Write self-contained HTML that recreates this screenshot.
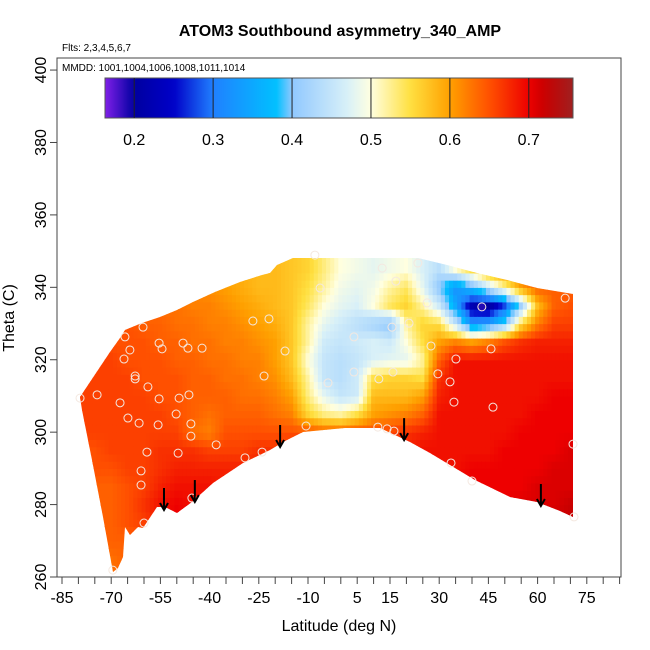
<!DOCTYPE html>
<html><head><meta charset="utf-8">
<style>
html,body{margin:0;padding:0;background:#fff;}
svg{display:block;font-family:"Liberation Sans",Arial,sans-serif;}
</style></head>
<body>
<svg id="chart" width="650" height="650" viewBox="0 0 650 650" xmlns="http://www.w3.org/2000/svg">
<defs>
<clipPath id="domclip"><polygon points="80,397 90,382 100,367 110,352 120,338 125,330 142,323 160,317 177,310 193,302 215,292 240,282 262,275 270,273 277,265 293,258 418,258 447,265 477,273 507,280 537,288 567,293 573,294 573,517 560,511 537,502 510,497 475,480 450,465 430,453 410,442 380,428 345,428 303,432 285,441 270,450 243,463 213,483 192,502 177,513 165,507 157,507 143,528 138,527 130,535 125,527 123,557 118,568 113,572 103,517 92,460 82,410"/></clipPath>
<linearGradient id="cbgrad" x1="0" x2="1" y1="0" y2="0"></linearGradient>
</defs>
<text x="340" y="36" text-anchor="middle" font-size="16" font-weight="bold">ATOM3 Southbound asymmetry_340_AMP</text>
<text x="62" y="51" font-size="10">Flts: 2,3,4,5,6,7</text>
<g id="heat" clip-path="url(#domclip)"></g>
<g id="pts"></g>
<g id="arrows"></g>
<rect x="57" y="58" width="564" height="519" fill="none" stroke="#444" stroke-width="1"/>
<text x="62" y="71" font-size="10">MMDD: 1001,1004,1006,1008,1011,1014</text>
<g id="cbar"></g>
<g id="xaxis"></g>
<g id="yaxis"></g>
<text x="339" y="631" text-anchor="middle" font-size="16">Latitude (deg N)</text>
<text transform="translate(14,318) rotate(-90)" text-anchor="middle" font-size="16">Theta (C)</text>
</svg>
<script>
const gridLats = [-75,-70,-65,-60,-55,-50,-45,-40,-35,-30,-25,-20,-15,-10,-5,0,5,10,15,20,25,30,35,40,45,50,55,60,65,70];
const gridThetas = [345,340,335,330,325,320,315,310,305,300,295,290,285,280,275,270,265];
const gridValues = [
[.64,.64,.64,.63,.63,.62,.62,.61,.60,.59,.58,.58,.57,.56,.53,.50,.49,.48,.49,.50,.47,.44,.50,.55,.60,.62,.63,.64,.64,.64],
[.64,.64,.64,.63,.63,.62,.62,.61,.60,.59,.58,.58,.57,.55,.52,.49,.48,.49,.52,.54,.48,.40,.32,.38,.45,.52,.60,.64,.64,.64],
[.65,.65,.64,.64,.63,.63,.62,.62,.61,.60,.59,.58,.57,.54,.50,.48,.47,.50,.54,.56,.52,.46,.35,.22,.20,.28,.42,.58,.64,.65],
[.65,.65,.65,.64,.64,.63,.63,.62,.62,.61,.60,.59,.57,.52,.48,.46,.44,.42,.40,.52,.56,.55,.45,.32,.34,.40,.55,.62,.66,.66],
[.66,.65,.65,.65,.64,.64,.63,.63,.62,.62,.61,.60,.57,.52,.46,.45,.46,.47,.46,.50,.55,.60,.62,.60,.62,.65,.67,.68,.68,.68],
[.66,.66,.65,.65,.65,.64,.64,.63,.63,.62,.62,.60,.57,.50,.45,.44,.45,.47,.48,.48,.52,.64,.69,.69,.69,.69,.69,.69,.69,.69],
[.66,.66,.66,.65,.65,.65,.64,.64,.63,.63,.62,.61,.58,.52,.45,.44,.46,.55,.56,.56,.55,.67,.69,.69,.69,.69,.69,.69,.69,.69],
[.66,.66,.66,.66,.65,.65,.64,.64,.64,.63,.63,.62,.60,.53,.48,.45,.46,.58,.58,.58,.60,.68,.69,.69,.69,.69,.69,.69,.70,.70],
[.66,.66,.66,.66,.66,.65,.64,.63,.64,.64,.64,.63,.62,.56,.53,.52,.55,.60,.61,.62,.64,.69,.69,.69,.69,.69,.69,.70,.70,.70],
[.66,.66,.66,.66,.66,.66,.63,.62,.65,.65,.65,.65,.65,.65,.64,.64,.65,.65,.66,.67,.68,.69,.69,.69,.69,.69,.70,.70,.70,.70],
[.65,.66,.66,.66,.67,.67,.67,.66,.66,.66,.67,.67,.68,.68,.68,.68,.68,.68,.68,.68,.69,.69,.69,.69,.69,.70,.70,.70,.70,.71],
[.65,.65,.66,.66,.67,.68,.68,.68,.68,.68,.68,.68,.68,.69,.69,.69,.69,.69,.69,.69,.69,.69,.69,.70,.70,.70,.70,.70,.71,.71],
[.64,.64,.65,.66,.68,.69,.69,.69,.68,.68,.68,.68,.69,.69,.69,.69,.69,.69,.69,.69,.69,.69,.70,.70,.70,.70,.70,.71,.71,.71],
[.64,.64,.65,.67,.69,.70,.69,.69,.68,.68,.68,.68,.69,.69,.69,.69,.69,.69,.69,.69,.69,.70,.70,.70,.70,.70,.71,.71,.71,.72],
[.64,.64,.65,.66,.68,.70,.70,.69,.68,.68,.68,.68,.69,.69,.69,.69,.69,.69,.69,.69,.69,.70,.70,.70,.70,.71,.71,.71,.72,.72],
[.64,.64,.64,.65,.66,.68,.68,.68,.68,.68,.68,.68,.69,.69,.69,.69,.69,.69,.69,.69,.69,.70,.70,.70,.70,.71,.71,.71,.72,.72],
[.64,.63,.64,.65,.66,.67,.68,.68,.68,.68,.68,.68,.69,.69,.69,.69,.69,.69,.69,.69,.69,.70,.70,.70,.70,.71,.71,.71,.72,.72]
];
const pointLats = [-60.3,-65.8,-55.4,-54.5,-64.3,-48.1,-46.6,-42.3,-66.1,-62.7,-62.7,-58.8,-74.3,-79.5,-67.3,-55.4,-49.3,-46.3,-50.2,-64.9,-61.5,-55.7,-45.7,-45.7,-38,-59.1,-49.6,-29.2,-24,-60.9,-60.9,-45.4,-60,-26.8,-21.9,-17,-23.4,-10.6,-69.5,-7.9,12.6,23.5,-6.3,16.8,26.3,43,68.4,20.8,15.6,4,27.5,45.8,35.1,4,15.9,29.6,-3.9,11.6,33.3,34.5,46.4,11.3,14.1,16.2,70.8,33.6,40,71.1];
const pointThetas = [329,326.3,324.6,323,322.7,324.6,323.2,323.2,320.2,315.5,314.7,312.5,310.3,309.4,308.1,309.2,309.4,310.3,305,303.9,302.5,302,302.3,298.9,296.5,294.5,294.2,292.9,294.5,289.3,285.4,281.8,274.9,330.7,331.3,322.4,315.5,301.7,261.9,348.9,345.3,346.7,339.8,341.7,335.7,334.6,337,330.1,329,326.3,323.8,323,320.2,316.6,316.6,316.1,313.6,314.7,313.9,308.3,306.9,301.4,300.9,300.3,296.7,291.5,286.5,276.6];
const pointValues = [.64,.64,.63,.64,.65,.63,.63,.62,.65,.64,.64,.64,.66,.66,.65,.64,.63,.63,.62,.65,.64,.63,.64,.62,.63,.64,.63,.66,.65,.66,.66,.69,.68,.60,.60,.57,.62,.65,.64,.55,.49,.48,.50,.50,.52,.19,.64,.48,.39,.45,.56,.62,.66,.45,.56,.60,.45,.56,.69,.69,.69,.66,.66,.67,.70,.69,.70,.71];
const arrowLats = [-53.9,-44.5,-18.5,19.3,61];
const arrowThetas = [278.5,280.7,295.9,297.8,279.6];
const cbTicks = [0.2,0.3,0.4,0.5,0.6,0.7];
const xTickLabels = [-85,-70,-55,-40,-25,-10,5,15,30,45,60,75];
const yTickLabels = [260,280,300,320,340,360,380,400];

const NS="http://www.w3.org/2000/svg";
function xs(lat){return 62+(lat+85)*3.28;}
function ys(th){return 577-(th-260)*3.621;}
const stops=[[0.163,[128,32,232]],[0.2,[0,0,160]],[0.25,[0,0,200]],[0.3,[32,128,255]],[0.38,[0,192,255]],[0.4,[144,200,255]],[0.47,[216,240,248]],[0.5,[255,255,224]],[0.55,[255,224,64]],[0.6,[255,160,0]],[0.65,[255,80,0]],[0.7,[238,0,0]],[0.72,[200,0,0]],[0.756,[160,32,32]]];
function cmap(v){
  if(v<=stops[0][0])return 'rgb('+stops[0][1]+')';
  for(let i=1;i<stops.length;i++){
    if(v<=stops[i][0]){const a=stops[i-1],b=stops[i];const t=(v-a[0])/(b[0]-a[0]);
      const c=a[1].map((q,k)=>Math.round(q+(b[1][k]-q)*t));return 'rgb('+c+')';}
  }
  return 'rgb('+stops[stops.length-1][1]+')';
}
function mk(tag,attrs,parent){const e=document.createElementNS(NS,tag);for(const k in attrs)e.setAttribute(k,attrs[k]);parent.appendChild(e);return e;}
function sample(lat,th){
  const nL=gridLats.length,nT=gridThetas.length;
  let fi=(lat-gridLats[0])/(gridLats[1]-gridLats[0]);fi=Math.max(0,Math.min(nL-1,fi));
  let fj=(gridThetas[0]-th)/(gridThetas[0]-gridThetas[1]);fj=Math.max(0,Math.min(nT-1,fj));
  const i0=Math.floor(fi),j0=Math.floor(fj),i1=Math.min(nL-1,i0+1),j1=Math.min(nT-1,j0+1);
  const u=fi-i0,w=fj-j0;
  const a=gridValues[j0][i0]*(1-u)+gridValues[j0][i1]*u;
  const b=gridValues[j1][i0]*(1-u)+gridValues[j1][i1]*u;
  return a*(1-w)+b*w;
}
// heatmap
const heat=document.getElementById('heat');
const dL=1.25,dT=2;
for(let lat=-82;lat<73;lat+=dL){
  for(let th=260;th<352;th+=dT){
    const v=sample(lat+dL/2,th+dT/2);
    const r=mk('rect',{x:xs(lat).toFixed(2),y:ys(th+dT).toFixed(2),width:(dL*3.28+0.6).toFixed(2),height:(dT*3.621+0.6).toFixed(2),fill:cmap(v)},heat);
    
    
  }
}
// points
const pts=document.getElementById('pts');
pointLats.forEach((la,i)=>{
  const c=mk('circle',{cx:xs(la),cy:ys(pointThetas[i]),r:4,fill:pointValues[i]<0.25?cmap(pointValues[i]):'none',stroke:'#f4e8e0','stroke-width':1},pts);
  
  
});
// arrows
const ar=document.getElementById('arrows');
arrowLats.forEach((la,i)=>{
  const x=xs(la),y=ys(arrowThetas[i]);
  const g=mk('g',{},ar);
  
  
  mk('line',{x1:x,y1:y-22,x2:x,y2:y-1,stroke:'#000','stroke-width':2},g);
  mk('polyline',{points:(x-4)+','+(y-7)+' '+x+','+y+' '+(x+4)+','+(y-7),fill:'none',stroke:'#000','stroke-width':2},g);
});
// colorbar
const grad=document.getElementById('cbgrad');
const cb0=0.163,cb1=0.756,cbx0=105,cbx1=573;
for(let k=0;k<=60;k++){const v=cb0+(cb1-cb0)*k/60;mk('stop',{offset:(k/60),'stop-color':cmap(v)},grad);}
const cbar=document.getElementById('cbar');
const cbr=mk('rect',{x:cbx0,y:78,width:cbx1-cbx0,height:40,fill:'url(#cbgrad)',stroke:'#555','stroke-width':1},cbar);


cbTicks.forEach(t=>{
  const x=cbx0+(t-cb0)/(cb1-cb0)*(cbx1-cbx0);
  mk('line',{x1:x,y1:78,x2:x,y2:118,stroke:'#222','stroke-width':1},cbar);
  const tx=mk('text',{x:x,y:145,'text-anchor':'middle','font-size':16},cbar);
  tx.textContent=t.toFixed(1);
  
  
});
// x axis
const xa=document.getElementById('xaxis');
for(let l=-85;l<=85;l+=5){mk('line',{x1:xs(l),y1:577,x2:xs(l),y2:584,stroke:'#444','stroke-width':1},xa);}
xTickLabels.forEach(l=>{
  const t=mk('text',{x:xs(l),y:603,'text-anchor':'middle','font-size':16},xa);
  t.textContent=l;
  
  
});
// y axis
const ya=document.getElementById('yaxis');
yTickLabels.forEach(v=>{
  const y=ys(v);
  mk('line',{x1:50,y1:y,x2:57,y2:y,stroke:'#444','stroke-width':1},ya);
  const t=mk('text',{transform:'translate(46,'+y+') rotate(-90)','text-anchor':'middle','font-size':16},ya);
  t.textContent=v;
  
  
});
</script>
</body></html>
